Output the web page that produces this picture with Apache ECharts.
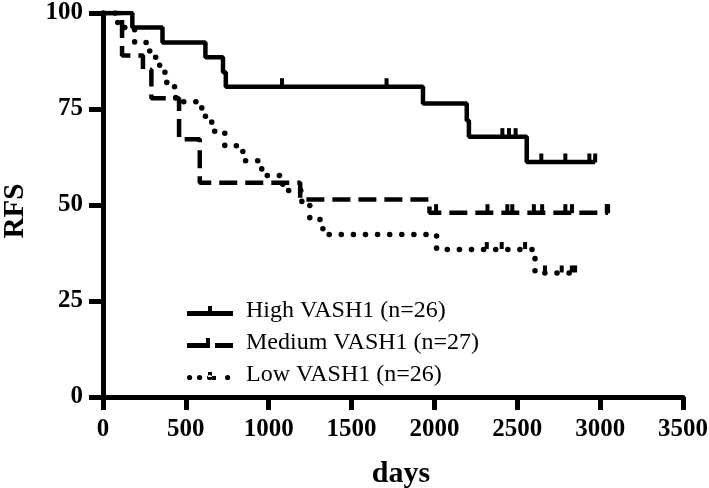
<!DOCTYPE html>
<html>
<head>
<meta charset="utf-8">
<script src="https://cdn.jsdelivr.net/npm/echarts@6/dist/echarts.min.js"></script>
<style>html,body{margin:0;padding:0;background:#fff}#c{width:709px;height:488px}</style>
</head>
<body>
<div id="c"></div>
<script>
// ---- data ----
var seriesNames = ['High VASH1 (n=26)', 'Medium VASH1 (n=27)', 'Low VASH1 (n=26)'];
var xTicks = [0, 500, 1000, 1500, 2000, 2500, 3000, 3500];
var yTicks = [0, 25, 50, 75, 100];

// event times (days) and survival (%) after each step
var highTimes = [0, 177, 359, 618, 724, 741, 1931, 2195, 2208, 2557];
var highSurv  = [100, 96.2, 92.3, 88.5, 84.6, 80.8, 76.4, 72.0, 67.8, 61.2];
var highCens  = [1080, 1711, 2410, 2450, 2490, 2645, 2790, 2935, 2970];

var medTimes = [0, 115, 241, 292, 459, 584, 1190, 1970];
var medSurv  = [100, 88.9, 85.2, 77.8, 67.1, 55.8, 51.4, 48.0];
var medCens  = [2010, 2320, 2440, 2470, 2600, 2650, 2790, 2830, 3040, 3048];

var lowTimes = [0, 89, 191, 282, 342, 385, 439, 596, 656, 735, 844, 958, 1085, 1200, 1248, 1327, 2013, 2607];
var lowSurv  = [100, 96.2, 92.3, 88.5, 84.6, 80.8, 76.9, 73.1, 69.2, 65.4, 61.5, 57.7, 53.8, 50.0, 46.2, 42.3, 38.4, 32.3];
var lowCens  = [2316, 2406, 2547, 2667, 2768, 2829, 2849];

// ---- build KM step data ----
function build(times, surv, cens) {
  var pts = [];
  for (var i = 0; i < times.length; i++) pts.push({t: times[i], s: surv[i], c: false});
  for (var j = 0; j < cens.length; j++) {
    var s = surv[0];
    for (var k = 0; k < times.length; k++) if (times[k] <= cens[j]) s = surv[k];
    pts.push({t: cens[j], s: s, c: true});
  }
  pts.sort(function (a, b) { return a.t - b.t; });
  return pts.map(function (p) {
    return p.c ? {value: [p.t, p.s]} : {value: [p.t, p.s], symbol: 'none'};
  });
}

var font = 'Liberation Serif';
var chart = echarts.init(document.getElementById('c'), null, {renderer: 'canvas'});

function mkSeries(name, data, lineType, width, cap, symSize) {
  return {
    name: name,
    type: 'line',
    step: 'end',
    data: data,
    symbol: 'rect',
    symbolSize: symSize,
    symbolOffset: [0, -4],
    showSymbol: true,
    showAllSymbol: true,
    itemStyle: {color: '#000'},
    lineStyle: {color: '#000', width: width, type: lineType, cap: cap},
    emphasis: {disabled: true},
    z: 3
  };
}

// legend glyphs (46 x 12 box): line with a censor tick
var iconHigh = 'path://M0,0h0.01v0.01h-0.01z M0,6h46v5H0z M21,1h4v5h-4z M45.99,11.99h0.01v0.01h-0.01z';
var iconMed  = 'path://M0,0h0.01v0.01h-0.01z M0,6h23v5H0z M19,1h4v5h-4z M28,6h18v5H28z M45.99,11.99h0.01v0.01h-0.01z';
var iconLow  = 'path://M0,0h0.01v0.01h-0.01z M0,8.5a2.6,2.6 0 1,0 5.2,0a2.6,2.6 0 1,0 -5.2,0z M10,8.5a2.6,2.6 0 1,0 5.2,0a2.6,2.6 0 1,0 -5.2,0z M20,8.5a2.6,2.6 0 1,0 5.2,0a2.6,2.6 0 1,0 -5.2,0z M21,3h4v5h-4z M25,7h4v4h-4z M38,8.5a2.6,2.6 0 1,0 5.2,0a2.6,2.6 0 1,0 -5.2,0z M45.99,11.99h0.01v0.01h-0.01z';

chart.setOption({
  animation: false,
  backgroundColor: '#fff',
  grid: {left: 103, right: 26, top: 13, bottom: 91, containLabel: false, outerBoundsMode: 'none'},
  legend: {
    orient: 'vertical',
    left: 182,
    top: 294,
    itemWidth: 46,
    itemHeight: 12,
    itemGap: 8,
    textStyle: {fontFamily: font, fontSize: 24, color: '#000', padding: [0, 0, 0, 8]},
    data: [
      {name: seriesNames[0], icon: iconHigh},
      {name: seriesNames[1], icon: iconMed},
      {name: seriesNames[2], icon: iconLow}
    ]
  },
  xAxis: {
    type: 'value',
    min: 0, max: 3500, interval: 500,
    name: 'days',
    nameLocation: 'middle',
    nameGap: 62,
    nameTextStyle: {fontFamily: font, fontSize: 30, fontWeight: 'bold', color: '#000', padding: [0, 0, 0, 16]},
    axisLine: {show: true, lineStyle: {color: '#000', width: 5}},
    axisTick: {show: true, length: 13, lineStyle: {color: '#000', width: 5}},
    axisLabel: {
      margin: 20, fontFamily: font, fontSize: 25, fontWeight: 'bold', color: '#000',
      formatter: function (v) { return xTicks.indexOf(v) >= 0 ? String(v) : ''; }
    },
    splitLine: {show: false}
  },
  yAxis: {
    type: 'value',
    min: 0, max: 100, interval: 25,
    name: 'RFS',
    nameLocation: 'middle',
    nameRotate: 90,
    nameGap: 73,
    nameTextStyle: {fontFamily: font, fontSize: 29, fontWeight: 'bold', color: '#000', padding: [0, 12, 0, 0]},
    axisLine: {show: true, onZero: false, lineStyle: {color: '#000', width: 5}},
    axisTick: {show: true, length: 14, lineStyle: {color: '#000', width: 5}},
    axisLabel: {
      margin: 20, fontFamily: font, fontSize: 25, fontWeight: 'bold', color: '#000',
      formatter: function (v) { return yTicks.indexOf(v) >= 0 ? String(v) : ''; }
    },
    splitLine: {show: false}
  },
  series: [
    mkSeries(seriesNames[0], build(highTimes, highSurv, highCens), 'solid', 4.5, 'butt', [4, 9]),
    mkSeries(seriesNames[1], build(medTimes, medSurv, medCens), [18, 8], 4.5, 'butt', [4, 9]),
    mkSeries(seriesNames[2], build(lowTimes, lowSurv, lowCens), [0.1, 12], 5.5, 'round', [4, 7])
  ]
});
</script>
</body>
</html>
